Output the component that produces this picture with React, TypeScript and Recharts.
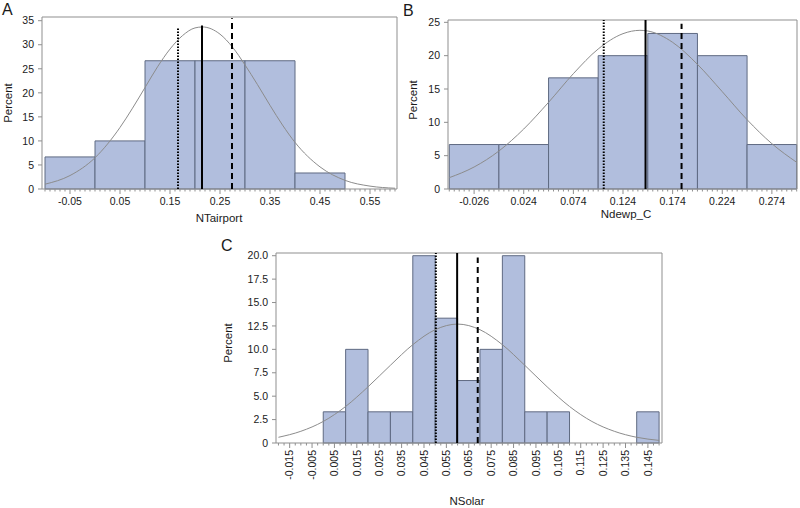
import React from 'react';
import { ComposedChart, XAxis, YAxis, Line, ReferenceArea, ReferenceLine } from 'recharts';

const FONT = '"Liberation Sans", Arial, Helvetica, sans-serif';
const BAR_FILL = '#b1bedd';
const BAR_STROKE = '#5f6a82';
const FRAME = '#8f8f8f';
const CURVE = '#8c8c8c';
const TEXT = '#1a1a1a';

// ---------- Panel A: NTairport ----------
const edgesA = [-0.1, 0, 0.1, 0.2, 0.3, 0.4, 0.5];
const pctA = [6.67, 10, 26.67, 26.67, 26.67, 3.33];
const curveAx = [-0.1, -0.05, 0, 0.05, 0.075, 0.1, 0.125, 0.15, 0.175, 0.2, 0.215, 0.25, 0.275, 0.3, 0.325, 0.35, 0.375, 0.4, 0.45, 0.5, 0.55, 0.6];
const curveAy = [1.0, 2.8, 6.5, 12.8, 16.8, 21.1, 25.4, 29.1, 31.9, 33.5, 33.7, 32.2, 29.5, 25.8, 21.7, 17.4, 13.3, 9.7, 4.6, 1.8, 0.6, 0.16];
const ticksA = [-0.05, 0.05, 0.15, 0.25, 0.35, 0.45, 0.55];
const tickLabelsA = ['-0.05', '0.05', '0.15', '0.25', '0.35', '0.45', '0.55'];
const yTicksA = [0, 5, 10, 15, 20, 25, 30, 35];
const domainAx: [number, number] = [-0.106, 0.604];
const domainAy: [number, number] = [0, 35.77];
const linesA = { dotted: 0.166, solid: 0.214, dashed: 0.274 };
const lineTopsA = { dotted: 33.7, solid: 34.0, dashed: 35.5 };

// ---------- Panel B: Ndewp_C ----------
const edgesB = [-0.051, -0.001, 0.049, 0.099, 0.149, 0.199, 0.249, 0.299];
const pctB = [6.67, 6.67, 16.67, 20, 23.33, 20, 6.67];
const curveBx = [-0.051, -0.026, -0.001, 0.024, 0.049, 0.074, 0.099, 0.124, 0.141, 0.149, 0.174, 0.199, 0.224, 0.249, 0.274, 0.299];
const curveBy = [1.7, 3.3, 5.7, 9.0, 13.0, 17.3, 21.0, 23.3, 23.8, 23.7, 22.0, 18.7, 14.6, 10.4, 6.8, 4.0];
const ticksB = [-0.026, 0.024, 0.074, 0.124, 0.174, 0.224, 0.274];
const tickLabelsB = ['-0.026', '0.024', '0.074', '0.124', '0.174', '0.224', '0.274'];
const yTicksB = [0, 5, 10, 15, 20, 25];
const domainBx: [number, number] = [-0.0523, 0.2993];
const domainBy: [number, number] = [0, 25.35];
const linesB = { dotted: 0.1046, solid: 0.1467, dashed: 0.183 };
const lineTopsB = { dotted: 25.35, solid: 25.35, dashed: 24.8 };

// ---------- Panel C: NSolar ----------
const edgesC = [0, 0.01, 0.02, 0.03, 0.04, 0.05, 0.06, 0.07, 0.08, 0.09, 0.1, 0.11, 0.12, 0.13, 0.14, 0.15];
const pctC = [3.33, 10, 3.33, 3.33, 20, 13.33, 6.67, 10, 20, 3.33, 3.33, 0, 0, 0, 3.33];
const curveCx = [-0.02, -0.01, 0, 0.01, 0.02, 0.03, 0.04, 0.05, 0.06, 0.07, 0.08, 0.09, 0.1, 0.11, 0.12, 0.13, 0.14, 0.15];
const curveCy = [0.61, 1.25, 2.3, 3.9, 6.0, 8.3, 10.5, 12.1, 12.7, 12.1, 10.5, 8.3, 6.0, 3.9, 2.3, 1.25, 0.61, 0.28];
const ticksC = [-0.015, -0.005, 0.005, 0.015, 0.025, 0.035, 0.045, 0.055, 0.065, 0.075, 0.085, 0.095, 0.105, 0.115, 0.125, 0.135, 0.145];
const tickLabelsC = ['-0.015', '-0.005', '0.005', '0.015', '0.025', '0.035', '0.045', '0.055', '0.065', '0.075', '0.085', '0.095', '0.105', '0.115', '0.125', '0.135', '0.145'];
const yTicksC = [0, 2.5, 5, 7.5, 10, 12.5, 15, 17.5, 20];
const domainCx: [number, number] = [-0.0211, 0.1513];
const domainCy: [number, number] = [0, 20.29];
const linesC = { dotted: 0.0503, solid: 0.0598, dashed: 0.069 };
const lineTopsC = { dotted: 20.29, solid: 20.29, dashed: 19.8 };

function minorTicks(start: number, end: number, step: number): number[] {
  const out: number[] = [];
  const n = Math.round((end - start) / step);
  for (let i = 0; i <= n; i++) out.push(Number((start + i * step).toFixed(5)));
  return out;
}

function makeXTick(majors: number[], labels: string[], rotate: boolean) {
  return (props: any) => {
    const { x, y, payload } = props;
    const idx = majors.findIndex((m) => Math.abs(m - payload.value) < 1e-6);
    const major = idx >= 0;
    return (
      <g>
        <line x1={x} x2={x} y1={y} y2={y + (major ? 5 : 2.5)} stroke={FRAME} strokeWidth={1} />
        {major && !rotate && (
          <text x={x} y={y + 9} dy="0.71em" textAnchor="middle" fontSize={10.5} fontFamily={FONT} fill={TEXT}>
            {labels[idx]}
          </text>
        )}
        {major && rotate && (
          <text
            transform={`translate(${x},${y}) rotate(-90)`}
            x={-7}
            y={3.7}
            textAnchor="end"
            fontSize={10.5}
            fontFamily={FONT}
            fill={TEXT}
          >
            {labels[idx]}
          </text>
        )}
      </g>
    );
  };
}

type PanelProps = {
  left: number;
  top: number;
  width: number;
  height: number;
  margin: { top: number; right: number; left: number; bottom: number };
  yAxisWidth: number;
  xAxisHeight: number;
  edges: number[];
  pct: number[];
  cx: number[];
  cy: number[];
  majors: number[];
  labels: string[];
  minors: number[];
  yTicks: number[];
  domainX: [number, number];
  domainY: [number, number];
  lines: { dotted: number; solid: number; dashed: number };
  tops: { dotted: number; solid: number; dashed: number };
  rotate: boolean;
  yFmt?: (v: number) => string;
};

function Panel(p: PanelProps) {
  const data = p.cx.map((x, i) => ({ x, y: p.cy[i] }));
  const allTicks = Array.from(new Set([...p.minors, ...p.majors])).sort((a, b) => a - b);
  return (
    <div style={{ position: 'absolute', left: p.left, top: p.top, width: p.width, height: p.height }}>
      <ComposedChart width={p.width} height={p.height} data={data} margin={p.margin}>
        <XAxis
          dataKey="x"
          type="number"
          domain={p.domainX}
          ticks={allTicks}
          interval={0}
          allowDataOverflow
          height={p.xAxisHeight}
          axisLine={false}
          tickLine={false}
          tickSize={0}
          tickMargin={0}
          tick={makeXTick(p.majors, p.labels, p.rotate)}
        />
        <YAxis
          type="number"
          domain={p.domainY}
          ticks={p.yTicks}
          interval={0}
          allowDataOverflow
          width={p.yAxisWidth}
          axisLine={false}
          tickLine={{ stroke: FRAME }}
          tickSize={4}
          tickMargin={4}
          tickFormatter={p.yFmt}
          tick={{ fontSize: 10.5, fontFamily: FONT, fill: TEXT }}
        />
        {p.pct.map((v, i) =>
          v > 0 ? (
            <ReferenceArea
              key={'bin' + i}
              x1={p.edges[i]}
              x2={p.edges[i + 1]}
              y1={0}
              y2={v}
              fill={BAR_FILL}
              fillOpacity={1}
              stroke={BAR_STROKE}
              strokeWidth={1}
              ifOverflow="visible"
            />
          ) : null
        )}
        <Line
          dataKey="y"
          type="monotone"
          stroke={CURVE}
          strokeWidth={1}
          dot={false}
          activeDot={false}
          isAnimationActive={false}
        />
        <ReferenceLine
          segment={[{ x: p.lines.dotted, y: 0 }, { x: p.lines.dotted, y: p.tops.dotted }]}
          stroke="#000"
          strokeWidth={2}
          strokeDasharray="1.5 1.5"
          ifOverflow="visible"
        />
        <ReferenceLine
          segment={[{ x: p.lines.solid, y: 0 }, { x: p.lines.solid, y: p.tops.solid }]}
          stroke="#000"
          strokeWidth={2}
          ifOverflow="visible"
        />
        <ReferenceLine
          segment={[{ x: p.lines.dashed, y: 0 }, { x: p.lines.dashed, y: p.tops.dashed }]}
          stroke="#000"
          strokeWidth={2}
          strokeDasharray="6 4"
          ifOverflow="visible"
        />
        <ReferenceArea
          x1={p.domainX[0]}
          x2={p.domainX[1]}
          y1={p.domainY[0]}
          y2={p.domainY[1]}
          fill="none"
          stroke={FRAME}
          strokeWidth={1}
          ifOverflow="visible"
        />
      </ComposedChart>
    </div>
  );
}

export default function App() {
  const textStyle = { fontFamily: FONT, fill: TEXT } as const;
  return (
    <div style={{ position: 'absolute', left: 0, top: 0, width: 800, height: 508, background: '#fff', overflow: 'hidden' }}>
      <Panel
        left={0}
        top={0}
        width={400}
        height={230}
        margin={{ top: 17, right: 3, left: 0, bottom: 0 }}
        yAxisWidth={42}
        xAxisHeight={41}
        edges={edgesA}
        pct={pctA}
        cx={curveAx}
        cy={curveAy}
        majors={ticksA}
        labels={tickLabelsA}
        minors={minorTicks(-0.1, 0.6, 0.01)}
        yTicks={yTicksA}
        domainX={domainAx}
        domainY={domainAy}
        lines={linesA}
        tops={lineTopsA}
        rotate={false}
      />
      <Panel
        left={400}
        top={0}
        width={400}
        height={230}
        margin={{ top: 20, right: 3, left: 0, bottom: 0 }}
        yAxisWidth={48}
        xAxisHeight={41}
        edges={edgesB}
        pct={pctB}
        cx={curveBx}
        cy={curveBy}
        majors={ticksB}
        labels={tickLabelsB}
        minors={minorTicks(-0.051, 0.299, 0.005)}
        yTicks={yTicksB}
        domainX={domainBx}
        domainY={domainBy}
        lines={linesB}
        tops={lineTopsB}
        rotate={false}
      />
      <Panel
        left={200}
        top={230}
        width={480}
        height={278}
        margin={{ top: 23, right: 18, left: 0, bottom: 0 }}
        yAxisWidth={76}
        xAxisHeight={65}
        edges={edgesC}
        pct={pctC}
        cx={curveCx}
        cy={curveCy}
        majors={ticksC}
        labels={tickLabelsC}
        minors={minorTicks(-0.02, 0.15, 0.0025)}
        yTicks={yTicksC}
        domainX={domainCx}
        domainY={domainCy}
        lines={linesC}
        tops={lineTopsC}
        rotate={true}
        yFmt={(v: number) => (v === 0 ? '0' : v.toFixed(1))}
      />
      <svg width={800} height={508} style={{ position: 'absolute', left: 0, top: 0, pointerEvents: 'none' }}>
        <text x={2} y={15} fontSize={16} {...textStyle}>A</text>
        <text x={403} y={16} fontSize={16} {...textStyle}>B</text>
        <text x={221} y={251} fontSize={16} {...textStyle}>C</text>
        <text transform="translate(11.5,103) rotate(-90)" textAnchor="middle" fontSize={11.5} {...textStyle}>Percent</text>
        <text transform="translate(416.5,100) rotate(-90)" textAnchor="middle" fontSize={11.5} {...textStyle}>Percent</text>
        <text transform="translate(231.5,343) rotate(-90)" textAnchor="middle" fontSize={11.5} {...textStyle}>Percent</text>
        <text x={219} y={222} textAnchor="middle" fontSize={11.5} {...textStyle}>NTairport</text>
        <text x={626} y={218} textAnchor="middle" fontSize={11.5} {...textStyle}>Ndewp_C</text>
        <text x={467} y={505} textAnchor="middle" fontSize={11.5} {...textStyle}>NSolar</text>
      </svg>
    </div>
  );
}
